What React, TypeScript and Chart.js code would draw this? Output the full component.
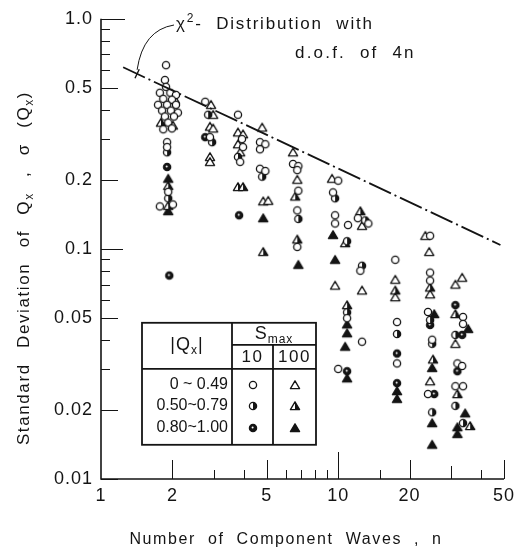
import React, { useEffect, useRef } from 'react';
import { Chart, registerables } from 'chart.js';

Chart.register(...registerables);

type Pair = [number, number]; // [n, sigma]

// S_max = 10 (circles), grouped by |Qx|
const circleLow: Pair[] = [
  [1.88, 0.629], [1.86, 0.542], [1.88, 0.506], [1.77, 0.477], [1.96, 0.477],
  [2.07, 0.467], [1.83, 0.449], [1.99, 0.445], [1.74, 0.423], [1.9, 0.423],
  [2.07, 0.423], [1.81, 0.399], [1.97, 0.399], [2.11, 0.391], [1.86, 0.376],
  [2.03, 0.376], [1.92, 0.354], [1.99, 0.334], [1.83, 0.331], [1.9, 0.291],
  [1.9, 0.277], [1.92, 0.177], [1.77, 0.153], [2.01, 0.156],
  [2.75, 0.436], [2.88, 0.306],
  [3.78, 0.383], [3.93, 0.3], [3.97, 0.277], [3.86, 0.239],
  [4.68, 0.291], [4.93, 0.285], [4.68, 0.271], [4.68, 0.223], [4.93, 0.218],
  [6.45, 0.234], [6.79, 0.229], [6.72, 0.22], [6.79, 0.179], [6.72, 0.147], [6.72, 0.102],
  [10.0, 0.198], [9.51, 0.176], [9.7, 0.14], [9.7, 0.129], [11.0, 0.127], [10.9, 0.05], [10.0, 0.0301],
  [12.1, 0.136], [13.4, 0.129], [12.4, 0.0804], [12.6, 0.0395],
  [17.4, 0.0897], [17.7, 0.0481], [17.7, 0.0318],
  [24.4, 0.114], [24.4, 0.0789], [24.4, 0.0728], [23.9, 0.0532], [24.9, 0.0403], [23.9, 0.0234],
  [33.6, 0.0506], [33.6, 0.0472], [31.8, 0.0318], [33.3, 0.031], [31.2, 0.0253], [33.6, 0.0253],
];
const circleMid: Pair[] = [
  [1.9, 0.263], [1.92, 0.166], [2.83, 0.383], [2.94, 0.291], [3.78, 0.251],
  [4.78, 0.206], [6.79, 0.135], [9.7, 0.166], [10.9, 0.108], [10.9, 0.053],
  [13.0, 0.133], [12.6, 0.0845], [17.7, 0.0427], [24.4, 0.0491], [24.9, 0.0387],
  [24.9, 0.0195], [31.2, 0.0423], [31.2, 0.0208], [33.6, 0.0175],
];
const circleHigh: Pair[] = [
  [1.9, 0.227], [1.94, 0.0766], [2.75, 0.306], [3.82, 0.14], [10.9, 0.0294],
  [17.7, 0.0351], [17.7, 0.0261], [24.4, 0.0467], [25.4, 0.0234], [31.2, 0.057],
  [33.3, 0.0423], [31.8, 0.0294],
];

// S_max = 100 (triangles), grouped by |Qx|
const triLow: Pair[] = [
  [2.05, 0.445], [2.01, 0.344], [2.91, 0.423], [2.97, 0.383], [2.88, 0.34],
  [2.97, 0.334], [2.88, 0.251], [2.88, 0.239], [3.78, 0.321], [3.97, 0.315],
  [3.78, 0.285], [3.86, 0.263], [4.78, 0.337], [4.83, 0.161], [5.07, 0.162],
  [6.45, 0.263], [6.72, 0.2], [9.42, 0.202], [9.7, 0.0693], [12.6, 0.126],
  [12.6, 0.066], [17.4, 0.0735], [17.4, 0.0617], [23.3, 0.114], [24.2, 0.0971],
  [24.4, 0.0635], [24.4, 0.0266], [33.3, 0.075], [31.2, 0.07], [31.2, 0.0387],
];
const triMid: Pair[] = [
  [1.79, 0.354], [1.92, 0.188], [1.92, 0.154], [3.78, 0.186], [3.97, 0.186],
  [4.83, 0.0971], [6.59, 0.169], [6.72, 0.11], [10.7, 0.106], [10.9, 0.057],
  [12.4, 0.146], [17.4, 0.066], [24.4, 0.068], [25.1, 0.0331], [31.2, 0.0521],
  [31.8, 0.0234], [36.0, 0.017],
];
const triHigh: Pair[] = [
  [1.92, 0.202], [1.92, 0.146], [4.83, 0.136], [6.79, 0.0853], [9.51, 0.115],
  [9.7, 0.0897], [10.9, 0.047], [10.9, 0.043], [10.7, 0.0376], [10.9, 0.0274],
  [17.7, 0.0241], [17.7, 0.0223], [25.4, 0.0521], [24.9, 0.0304], [24.9, 0.0175],
  [24.9, 0.0141], [35.3, 0.0449], [34.3, 0.0193], [31.8, 0.0168], [31.8, 0.0157],
];

// chi-square reference line (4n degrees of freedom)
const chiLine: Pair[] = [[1.24, 0.616], [48.3, 0.104]];
const chiLeaderN = 1.42;

const xTicks = [1, 2, 5, 10, 20, 50];
const xTickLabels = ['1', '2', '5', '10', '20', '50'];
const xMinorTicks = [3, 4, 6, 7, 8, 9, 15, 30, 40];
const yTicks = [0.01, 0.02, 0.05, 0.1, 0.2, 0.5, 1.0];
const yTickLabels = ['0.01', '0.02', '0.05', '0.1', '0.2', '0.5', '1.0'];
const yMinorTicks = [0.03, 0.04, 0.06, 0.07, 0.08, 0.09, 0.3, 0.4, 0.6, 0.7, 0.8, 0.9];

const qxRanges = ['0 ~ 0.49', '0.50~0.79', '0.80~1.00'];
const smaxValues = ['10', '100'];

const FONT = '"Liberation Sans", Arial, sans-serif';
const INK = '#141414';

type Shape = 'circle' | 'triangle';
type Fill = 'open' | 'half' | 'solid';

function makeMarker(shape: Shape, fill: Fill): HTMLCanvasElement {
  const size = 14;
  const c = document.createElement('canvas');
  c.width = size;
  c.height = size;
  const g = c.getContext('2d')!;
  const cx = size / 2;
  const cy = size / 2;
  g.lineWidth = 1.3;
  g.strokeStyle = INK;
  g.lineJoin = 'round';
  if (shape === 'circle') {
    const r = 3.6;
    g.beginPath();
    g.arc(cx, cy, r, 0, Math.PI * 2);
    g.fillStyle = '#fff';
    g.fill();
    if (fill === 'half') {
      g.beginPath();
      g.arc(cx, cy, r, -Math.PI / 2, Math.PI / 2);
      g.closePath();
      g.fillStyle = INK;
      g.fill();
    } else if (fill === 'solid') {
      g.beginPath();
      g.arc(cx, cy, r, 0, Math.PI * 2);
      g.fillStyle = INK;
      g.fill();
      g.beginPath();
      g.arc(cx - 0.4, cy - 0.4, 1.0, 0, Math.PI * 2);
      g.fillStyle = '#fff';
      g.fill();
    }
    g.beginPath();
    g.arc(cx, cy, r, 0, Math.PI * 2);
    g.stroke();
  } else {
    const top: Pair = [cx, cy - 4.2];
    const bl: Pair = [cx - 4.6, cy + 3.6];
    const br: Pair = [cx + 4.6, cy + 3.6];
    g.beginPath();
    g.moveTo(top[0], top[1]);
    g.lineTo(bl[0], bl[1]);
    g.lineTo(br[0], br[1]);
    g.closePath();
    g.fillStyle = fill === 'solid' ? INK : '#fff';
    g.fill();
    if (fill === 'half') {
      g.beginPath();
      g.moveTo(top[0], top[1]);
      g.lineTo(cx, br[1]);
      g.lineTo(br[0], br[1]);
      g.closePath();
      g.fillStyle = INK;
      g.fill();
    }
    g.beginPath();
    g.moveTo(top[0], top[1]);
    g.lineTo(bl[0], bl[1]);
    g.lineTo(br[0], br[1]);
    g.closePath();
    g.stroke();
  }
  return c;
}

type Part = { t: string; sub?: boolean; sup?: boolean };

function drawParts(
  ctx: CanvasRenderingContext2D,
  parts: Part[],
  x: number,
  y: number,
  size: number,
  align: 'left' | 'center',
  letter: number,
  word: number,
) {
  const small = Math.round(size * 0.68);
  ctx.textBaseline = 'middle';
  ctx.textAlign = 'left';
  (ctx as any).letterSpacing = `${letter}px`;
  (ctx as any).wordSpacing = `${word}px`;
  const widths = parts.map((p) => {
    ctx.font = `${p.sub || p.sup ? small : size}px ${FONT}`;
    return ctx.measureText(p.t).width;
  });
  const total = widths.reduce((s, w) => s + w, 0);
  let cx = align === 'center' ? x - total / 2 : x;
  parts.forEach((p, i) => {
    ctx.font = `${p.sub || p.sup ? small : size}px ${FONT}`;
    const dy = p.sub ? size * 0.32 : p.sup ? -size * 0.3 : 0;
    ctx.fillText(p.t, cx, y + dy);
    cx += widths[i];
  });
  (ctx as any).letterSpacing = '0px';
  (ctx as any).wordSpacing = '0px';
}

export default function App() {
  const canvasRef = useRef<HTMLCanvasElement | null>(null);

  useEffect(() => {
    const canvas = canvasRef.current;
    if (!canvas) return;

    const markers = {
      cOpen: makeMarker('circle', 'open'),
      cHalf: makeMarker('circle', 'half'),
      cSolid: makeMarker('circle', 'solid'),
      tOpen: makeMarker('triangle', 'open'),
      tHalf: makeMarker('triangle', 'half'),
      tSolid: makeMarker('triangle', 'solid'),
    };

    const toXY = (arr: Pair[]) => arr.map(([x, y]) => ({ x, y }));

    const pointSet = (label: string, arr: Pair[], img: HTMLCanvasElement) => ({
      type: 'scatter' as const,
      label,
      data: toXY(arr),
      pointStyle: img,
      pointRadius: 4,
      pointHoverRadius: 4,
      showLine: false,
    });

    const decor = {
      id: 'decor',
      beforeDraw(chart: any) {
        chart.ctx.letterSpacing = '1px';
      },
      afterDraw(chart: any) {
        const ctx: CanvasRenderingContext2D = chart.ctx;
        const a = chart.chartArea;
        const xs = chart.scales.x;
        const ys = chart.scales.y;
        ctx.save();
        (ctx as any).letterSpacing = '0px';
        ctx.strokeStyle = INK;
        ctx.fillStyle = INK;

        // axes
        ctx.lineWidth = 1.6;
        ctx.beginPath();
        ctx.moveTo(a.left, a.top);
        ctx.lineTo(a.left, a.bottom);
        ctx.lineTo(a.right, a.bottom);
        ctx.stroke();

        // inward tick marks
        ctx.lineWidth = 1;
        ctx.beginPath();
        yTicks.forEach((v) => {
          const py = Math.round(ys.getPixelForValue(v)) + 0.5;
          const len = v === 1 ? 24 : v === 0.1 ? 22 : 17;
          ctx.moveTo(a.left, py);
          ctx.lineTo(a.left + len, py);
        });
        yMinorTicks.forEach((v) => {
          const py = Math.round(ys.getPixelForValue(v)) + 0.5;
          ctx.moveTo(a.left, py);
          ctx.lineTo(a.left + 9, py);
        });
        xTicks.slice(1).forEach((v) => {
          const px = Math.round(xs.getPixelForValue(v)) + 0.5;
          const len = v === 10 ? 27 : 19;
          ctx.moveTo(px, a.bottom);
          ctx.lineTo(px, a.bottom - len);
        });
        xMinorTicks.forEach((v) => {
          const px = Math.round(xs.getPixelForValue(v)) + 0.5;
          const len = v === 30 ? 13 : 9;
          ctx.moveTo(px, a.bottom);
          ctx.lineTo(px, a.bottom - len);
        });
        ctx.stroke();

        // axis titles
        drawParts(ctx, [{ t: 'Number of Component Waves , n' }], 286, 540, 16, 'center', 1.6, 6);
        ctx.save();
        ctx.translate(24, 268);
        ctx.rotate(-Math.PI / 2);
        drawParts(
          ctx,
          [
            { t: 'Standard Deviation of Q' },
            { t: 'x', sub: true },
            { t: ' , σ (Q' },
            { t: 'x', sub: true },
            { t: ')' },
          ],
          0,
          0,
          17,
          'center',
          1.6,
          9,
        );
        ctx.restore();

        // chi-square annotation with leader
        const lx0 = Math.log10(chiLine[0][0]);
        const lx1 = Math.log10(chiLine[1][0]);
        const ly0 = Math.log10(chiLine[0][1]);
        const ly1 = Math.log10(chiLine[1][1]);
        const tN = (Math.log10(chiLeaderN) - lx0) / (lx1 - lx0);
        const sAt = Math.pow(10, ly0 + tN * (ly1 - ly0));
        const ex = xs.getPixelForValue(chiLeaderN);
        const ey = ys.getPixelForValue(sAt);
        const t1y = 24;
        ctx.lineWidth = 1;
        ctx.beginPath();
        ctx.moveTo(174, t1y + 1);
        ctx.quadraticCurveTo(143, t1y + 6, ex, ey - 4);
        ctx.stroke();
        const dx = xs.getPixelForValue(chiLine[1][0]) - xs.getPixelForValue(chiLine[0][0]);
        const dy = ys.getPixelForValue(chiLine[1][1]) - ys.getPixelForValue(chiLine[0][1]);
        const d = Math.hypot(dx, dy);
        const px = -dy / d;
        const py = dx / d;
        ctx.lineWidth = 1.4;
        ctx.beginPath();
        ctx.moveTo(ex + px * 5, ey + py * 5);
        ctx.lineTo(ex - px * 5, ey - py * 5);
        ctx.stroke();
        drawParts(
          ctx,
          [{ t: 'χ' }, { t: '2', sup: true }, { t: '- Distribution with' }],
          176,
          t1y,
          17,
          'left',
          1.8,
          7,
        );
        drawParts(ctx, [{ t: 'd.o.f. of 4n' }], 295, t1y + 29, 17, 'left', 2.2, 7);

        // legend table
        const L = a.left + 41;
        const T = a.top + 304;
        const R = a.left + 215;
        const B = a.top + 426;
        const c1 = a.left + 131;
        const c2 = a.left + 172;
        const h1 = a.top + 326;
        const h2 = a.top + 350;
        ctx.lineWidth = 1.8;
        ctx.fillStyle = '#fff';
        ctx.fillRect(L, T, R - L, B - T);
        ctx.fillStyle = INK;
        ctx.strokeRect(L, T, R - L, B - T);
        ctx.beginPath();
        ctx.moveTo(c1, T);
        ctx.lineTo(c1, B);
        ctx.moveTo(c2, h1);
        ctx.lineTo(c2, B);
        ctx.moveTo(c1, h1);
        ctx.lineTo(R, h1);
        ctx.moveTo(L, h2);
        ctx.lineTo(R, h2);
        ctx.stroke();

        drawParts(
          ctx,
          [{ t: '|Q' }, { t: 'x', sub: true }, { t: '|' }],
          (L + c1) / 2,
          (T + h2) / 2 - 1,
          18,
          'center',
          1,
          0,
        );
        drawParts(ctx, [{ t: 'S' }, { t: 'max', sub: true }], (c1 + R) / 2, (T + h1) / 2, 18, 'center', 1, 0);
        drawParts(ctx, [{ t: smaxValues[0] }], (c1 + c2) / 2, (h1 + h2) / 2 + 1, 17, 'center', 1.5, 0);
        drawParts(ctx, [{ t: smaxValues[1] }], (c2 + R) / 2, (h1 + h2) / 2 + 1, 17, 'center', 1.5, 0);

        const rowY = [h2 + 16, h2 + 37, h2 + 59];
        const circleIcons = [markers.cOpen, markers.cHalf, markers.cSolid];
        const triIcons = [markers.tOpen, markers.tHalf, markers.tSolid];
        qxRanges.forEach((label, i) => {
          ctx.font = `16px ${FONT}`;
          ctx.textAlign = 'right';
          ctx.textBaseline = 'middle';
          ctx.fillText(label, c1 - 4, rowY[i]);
          const ci = circleIcons[i];
          const ti = triIcons[i];
          ctx.drawImage(ci, Math.round((c1 + c2) / 2 - ci.width / 2), Math.round(rowY[i] - ci.height / 2));
          ctx.drawImage(ti, Math.round((c2 + R) / 2 - ti.width / 2), Math.round(rowY[i] - ti.height / 2));
        });

        ctx.restore();
      },
    };

    const chart = new Chart(canvas, {
      type: 'scatter',
      data: {
        datasets: [
          {
            type: 'line',
            label: 'chi-square',
            data: toXY(chiLine),
            borderColor: INK,
            borderWidth: 1.8,
            borderDash: [24, 4, 2, 4],
            pointRadius: 0,
            fill: false,
          } as any,
          pointSet('0-0.49, Smax 10', circleLow, markers.cOpen),
          pointSet('0.50-0.79, Smax 10', circleMid, markers.cHalf),
          pointSet('0.80-1.00, Smax 10', circleHigh, markers.cSolid),
          pointSet('0-0.49, Smax 100', triLow, markers.tOpen),
          pointSet('0.50-0.79, Smax 100', triMid, markers.tHalf),
          pointSet('0.80-1.00, Smax 100', triHigh, markers.tSolid),
        ],
      },
      options: {
        animation: false,
        responsive: false,
        maintainAspectRatio: false,
        layout: { padding: { left: 0, top: 13, right: 17, bottom: 0 } },
        plugins: {
          legend: { display: false },
          tooltip: { enabled: false },
        },
        scales: {
          x: {
            type: 'logarithmic',
            min: 1,
            max: 50,
            afterBuildTicks: (s: any) => {
              s.ticks = xTicks.map((v) => ({ value: v }));
            },
            afterFit: (s: any) => {
              s.height = 73;
            },
            grid: { display: false, drawTicks: false },
            border: { display: false },
            ticks: {
              autoSkip: false,
              maxRotation: 0,
              padding: 6,
              color: INK,
              font: { family: FONT, size: 18 },
              callback: (_v: any, i: number) => xTickLabels[i],
            },
          },
          y: {
            type: 'logarithmic',
            min: 0.01,
            max: 1,
            afterBuildTicks: (s: any) => {
              s.ticks = yTicks.map((v) => ({ value: v }));
            },
            afterFit: (s: any) => {
              s.width = 101;
            },
            grid: { display: false, drawTicks: false },
            border: { display: false },
            ticks: {
              autoSkip: false,
              padding: 8,
              color: INK,
              font: { family: FONT, size: 18 },
              callback: (_v: any, i: number) => yTickLabels[i],
            },
          },
        },
      },
      plugins: [decor],
    } as any);

    return () => chart.destroy();
  }, []);

  return (
    <div style={{ position: 'fixed', left: 0, top: 0, width: 521, height: 552, background: '#fff' }}>
      <canvas ref={canvasRef} width={521} height={552} style={{ width: 521, height: 552, display: 'block' }} />
    </div>
  );
}
